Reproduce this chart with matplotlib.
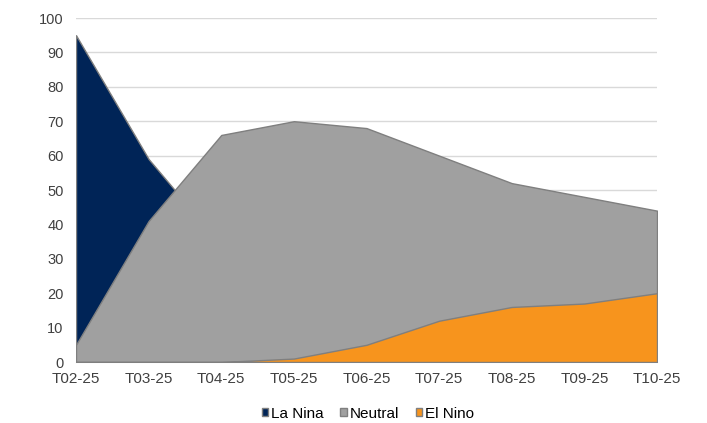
import matplotlib
matplotlib.use("Agg")
import matplotlib.pyplot as plt
from matplotlib.patches import Patch

plt.rcParams['font.family'] = ['Liberation Sans', 'DejaVu Sans']

periods = ["T02-25", "T03-25", "T04-25", "T05-25", "T06-25",
           "T07-25", "T08-25", "T09-25", "T10-25"]
la_nina = [95, 59, 34, 29, 27, 28, 32, 35, 36]
neutral = [5, 41, 66, 70, 68, 60, 52, 48, 44]
el_nino = [0, 0, 0, 1, 5, 12, 16, 17, 20]

series = [("La Nina", la_nina, "#002457"),
          ("Neutral", neutral, "#A0A0A0"),
          ("El Nino", el_nino, "#F7941D")]

fig = plt.figure(figsize=(7.07, 4.23), dpi=100)
ax = fig.add_axes([0.1075, 0.1442, 0.8218, 0.8132])

x = range(len(periods))
# areas overlap (not stacked), later series drawn on top
for i, (name, vals, col) in enumerate(series):
    ax.fill_between(x, 0, vals, facecolor=col, edgecolor="#7F7F7F",
                    linewidth=1.0, zorder=2 + i)

ax.set_xlim(0, len(periods) - 1)
ax.set_ylim(0, 100)
ax.set_yticks(range(0, 101, 10))
ax.set_xticks(list(x))
ax.set_xticklabels(periods)
ax.grid(axis="y", color="#D9D9D9", linewidth=1.0, zorder=0)
ax.set_axisbelow(True)
for s in ["top", "right", "left"]:
    ax.spines[s].set_visible(False)
ax.spines["bottom"].set_color("#D9D9D9")
ax.tick_params(length=0, colors="#404040")
ax.tick_params(axis="y", labelsize=10.5, pad=9)
ax.tick_params(axis="x", labelsize=11, pad=7)

handles = [Patch(facecolor=c, edgecolor="#7F7F7F", label=n) for n, _, c in series]
fig.legend(handles=handles, loc="center", bbox_to_anchor=(0.52, 0.022),
           ncol=3, frameon=False, fontsize=11, handlelength=0.45,
           handleheight=0.45, handletextpad=0.15, columnspacing=1.1)

fig.savefig("out.png", dpi=100)
